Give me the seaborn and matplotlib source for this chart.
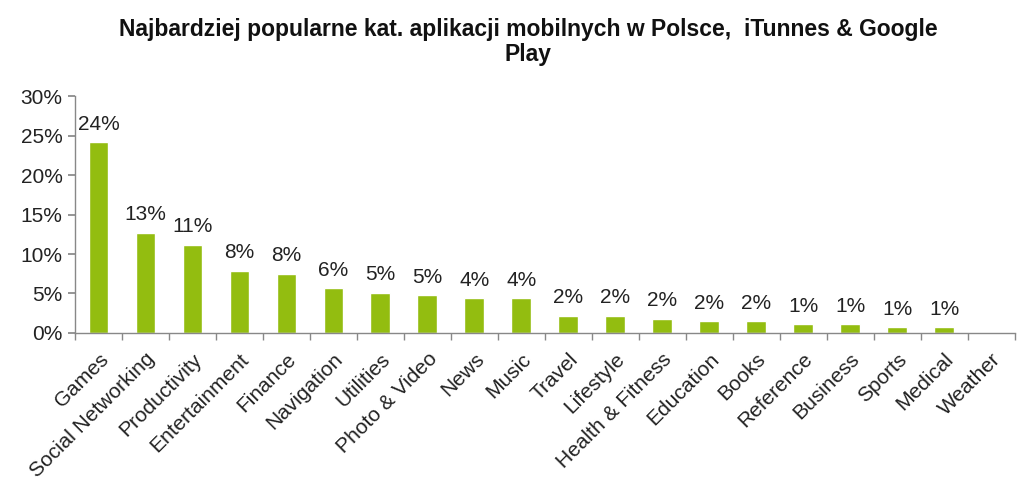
import matplotlib
matplotlib.use("Agg")
import matplotlib.pyplot as plt
import seaborn as sns
import numpy as np
import pandas as pd

categories = ["Games", "Social Networking", "Productivity", "Entertainment", "Finance",
              "Navigation", "Utilities", "Photo & Video", "News", "Music", "Travel",
              "Lifestyle", "Health & Fitness", "Education", "Books", "Reference",
              "Business", "Sports", "Medical", "Weather"]
values = [24.2, 12.7, 11.2, 7.9, 7.5, 5.7, 5.1, 4.8, 4.4, 4.4, 2.2, 2.2, 1.8, 1.5, 1.5,
          1.1, 1.1, 0.7, 0.7, 0.0]
value_labels = ["24%", "13%", "11%", "8%", "8%", "6%", "5%", "5%", "4%", "4%", "2%", "2%",
                "2%", "2%", "2%", "1%", "1%", "1%", "1%", ""]
yticks = [0, 5, 10, 15, 20, 25, 30]
title = "Najbardziej popularne kat. aplikacji mobilnych w Polsce,  iTunnes & Google\nPlay"

sns.set_theme(style="white")
plt.rcParams['font.family'] = ['Liberation Sans', 'DejaVu Sans']

df = pd.DataFrame({"cat": categories, "val": values})
fig = plt.figure(figsize=(10.19, 4.86), dpi=100)
ax = fig.add_axes([0.0736, 0.315, 0.922, 0.487])
sns.barplot(data=df, x="cat", y="val", color="#93BD10", saturation=1, width=0.42, ax=ax)

for i, (v, lab) in enumerate(zip(values, value_labels)):
    if lab:
        ax.annotate(lab, (i, v), xytext=(0, 6), textcoords="offset points",
                    ha="center", va="bottom", fontsize=15, color="#222222")

ax.set_xlim(-0.5, len(categories) - 0.5)
ax.set_ylim(0, 30)
ax.set_yticks(yticks)
ax.set_yticklabels([f"{t}%" for t in yticks], fontsize=15, color="#222222")
ax.set_xticks(range(len(categories)))
ax.set_xticklabels(categories, rotation=45, ha="right", rotation_mode="anchor",
                   fontsize=15, color="#222222")
ax.set_xticks(np.arange(-0.5, len(categories), 1), minor=True)
ax.tick_params(axis="x", which="major", length=0, pad=12)
ax.tick_params(axis="x", which="minor", length=5, direction="out", color="#888888", bottom=True)
ax.tick_params(axis="y", length=5, direction="out", color="#888888", left=True, pad=4)
ax.set_xlabel("")
ax.set_ylabel("")
for s in ["top", "right"]:
    ax.spines[s].set_visible(False)
for s in ["left", "bottom"]:
    ax.spines[s].set_color("#888888")
    ax.spines[s].set_linewidth(1)

fig.text(0.518, 0.962, title, ha="center", va="top", fontsize=16.5, fontweight="bold",
         color="#111111", linespacing=1.1)

fig.savefig("out.png", dpi=100)
